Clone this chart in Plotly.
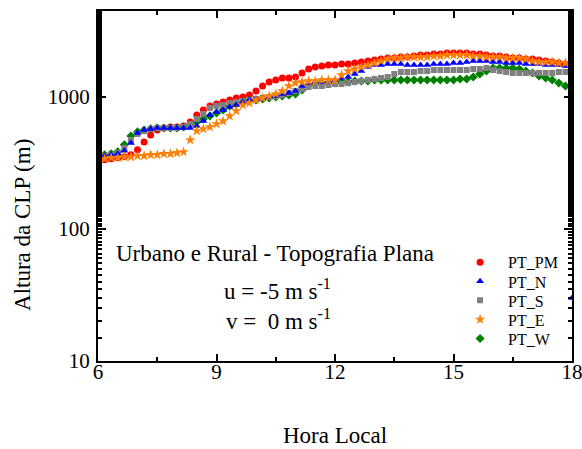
import plotly.graph_objects as go

# Local time grid: every 10 minutes from 06:00 to 18:00
HOURS = [6 + k / 6 for k in range(73)]

# Boundary-layer height (m), one row per hour (6 samples each), last value at 18:00
PT_PM = [
    334, 334, 340, 346, 352, 365,
    398, 457, 516, 563, 583, 593,
    593, 603, 647, 731, 797, 855,
    885, 917, 949, 983, 1000, 1036,
    1110, 1212, 1299, 1345, 1393, 1393,
    1417, 1520, 1629, 1687, 1717, 1747,
    1747, 1778, 1778, 1809, 1841, 1873,
    1906, 1940, 1974, 1974, 2008, 2008,
    2044, 2080, 2080, 2116, 2116, 2154,
    2154, 2154, 2154, 2116, 2116, 2080,
    2044, 2044, 2008, 1974, 1974, 1940,
    1940, 1906, 1873, 1841, 1809, 1778,
    1747,
]

PT_N = [
    358, 358, 365, 371, 391, 449,
    534, 563, 573, 583, 583, 583,
    583, 583, 583, 603, 658, 731,
    770, 797, 840, 870, 917, 949,
    966, 983, 1000, 1018, 1054, 1072,
    1110, 1212, 1277, 1299, 1299, 1322,
    1345, 1393, 1417, 1493, 1574, 1687,
    1747, 1747, 1778, 1778, 1778, 1747,
    1747, 1747, 1747, 1778, 1778, 1778,
    1809, 1809, 1841, 1873, 1873, 1873,
    1841, 1841, 1809, 1809, 1809, 1778,
    1778, 1778, 1747, 1747, 1747, 1717,
    30,
]

PT_S = [
    358, 358, 365, 378, 412, 473,
    525, 553, 573, 583, 583, 583,
    583, 593, 625, 682, 744, 826,
    855, 870, 901, 917, 933, 949,
    966, 983, 1000, 1018, 1036, 1072,
    1110, 1150, 1191, 1212, 1212, 1233,
    1255, 1255, 1277, 1299, 1322, 1345,
    1369, 1393, 1417, 1493, 1546, 1546,
    1546, 1574, 1574, 1601, 1601, 1601,
    1601, 1601, 1601, 1629, 1629, 1658,
    1601, 1574, 1546, 1520, 1520, 1520,
    1520, 1520, 1520, 1520, 1546, 1546,
    1546,
]

PT_E = [
    340, 340, 346, 346, 352, 352,
    358, 358, 365, 365, 371, 371,
    378, 384, 473, 553, 573, 593,
    625, 658, 718, 784, 870, 901,
    949, 983, 1018, 1054, 1110, 1212,
    1277, 1299, 1322, 1322, 1345, 1345,
    1345, 1468, 1574, 1629, 1687, 1747,
    1809, 1873, 1940, 1974, 1974, 2008,
    2008, 2008, 2008, 2044, 2044, 2080,
    2080, 2080, 2080, 2044, 2044, 2008,
    2008, 2008, 1974, 1974, 1974, 1940,
    1873, 1841, 1841, 1841, 1809, 1809,
    1778,
]

PT_W = [
    365, 365, 371, 384, 434, 507,
    544, 563, 573, 583, 583, 583,
    583, 593, 614, 647, 682, 718,
    757, 797, 855, 885, 917, 949,
    949, 966, 983, 1000, 1018, 1036,
    1054, 1130, 1233, 1255, 1277, 1277,
    1277, 1299, 1299, 1322, 1322, 1322,
    1345, 1345, 1345, 1345, 1345, 1345,
    1345, 1345, 1345, 1345, 1345, 1345,
    1345, 1369, 1369, 1417, 1493, 1574,
    1658, 1658, 1658, 1658, 1629, 1574,
    1520, 1442, 1393, 1345, 1277, 1212,
    1150,
]

X_TICKS = [6, 9, 12, 15, 18]
Y_TICKS = [10, 100, 1000]

FONT = "Liberation Serif"

# name, values, color, symbol, marker size, legend slot (top to bottom); drawn bottom to top
series = [
    ("PT_PM", PT_PM, "#ff0000", "circle", 7, 0),
    ("PT_W", PT_W, "#008000", "diamond", 7, 4),
    ("PT_S", PT_S, "#808080", "square", 6, 2),
    ("PT_N", PT_N, "#0000ff", "triangle-up", 7, 1),
    ("PT_E", PT_E, "#ff8000", "star", 8, 3),
]

LEGEND_NAMES = ["legend", "legend2", "legend3", "legend4", "legend5"]
LEGEND_TOP = 0.282
LEGEND_STEP = 0.0545

fig = go.Figure()
for name, vals, color, symbol, size, slot in series:
    fig.add_trace(go.Scatter(
        x=HOURS, y=vals, name=name, mode="markers", legend=LEGEND_NAMES[slot],
        marker=dict(color=color, symbol=symbol, size=size, line=dict(width=0)),
    ))

axis_common = dict(
    showline=True, linecolor="black", linewidth=2, mirror="allticks",
    ticks="inside", tickcolor="black", showgrid=False, zeroline=False,
    tickfont=dict(family=FONT, size=21, color="black"),
    ticklabeloverflow="allow",
)

fig.update_xaxes(
    range=[6, 18], tickvals=X_TICKS, ticklen=7, tickwidth=1.5,
    ticklabelstandoff=-9,
    minor=dict(ticks="inside", dtick=1.5, tick0=6, ticklen=4, tickwidth=1.5, tickcolor="black"),
    title=dict(text="Hora Local", font=dict(family=FONT, size=23, color="black"), standoff=44),
    **axis_common,
)
fig.update_yaxes(
    type="log", range=[1, 3.6515], tickvals=Y_TICKS, ticktext=[str(v) for v in Y_TICKS],
    ticklen=8, tickwidth=1.5, ticklabelstandoff=2,
    minor=dict(ticks="inside", ticklen=4, tickwidth=1.5, tickcolor="black"),
    **axis_common,
)

# Y-axis title, set lower than the axis centre
fig.add_annotation(x=-0.158, y=0.389, xref="paper", yref="paper", xanchor="center", yanchor="middle",
                   text="Altura da CLP (m)", textangle=-90, showarrow=False,
                   font=dict(family=FONT, size=23, color="black"))

txt = dict(family=FONT, size=23, color="black")
fig.add_annotation(x=0.034, y=0.306, xref="paper", yref="paper", xanchor="left", yanchor="middle",
                   text="Urbano e Rural - Topografia Plana", showarrow=False, font=txt)
fig.add_annotation(x=0.262, y=0.205, xref="paper", yref="paper", xanchor="left", yanchor="middle",
                   text="u = -5 m s<sup>-1</sup>", showarrow=False, font=txt)
fig.add_annotation(x=0.266, y=0.12, xref="paper", yref="paper", xanchor="left", yanchor="middle",
                   text="v =\u00a0 0 m s<sup>-1</sup>", showarrow=False, font=txt)

legend_style = dict(xanchor="left", yanchor="middle", bgcolor="rgba(0,0,0,0)",
                    font=dict(family=FONT, size=16, color="black"), itemsizing="trace",
                    itemwidth=46)
layout_legends = {
    key: dict(x=0.747, y=LEGEND_TOP - i * LEGEND_STEP, **legend_style)
    for i, key in enumerate(LEGEND_NAMES)
}

fig.update_layout(
    width=582, height=449,
    margin=dict(l=98, r=10, t=11, b=88, autoexpand=False),
    paper_bgcolor="white", plot_bgcolor="white",
    showlegend=True,
    **layout_legends,
)

fig.write_html("out.html")
